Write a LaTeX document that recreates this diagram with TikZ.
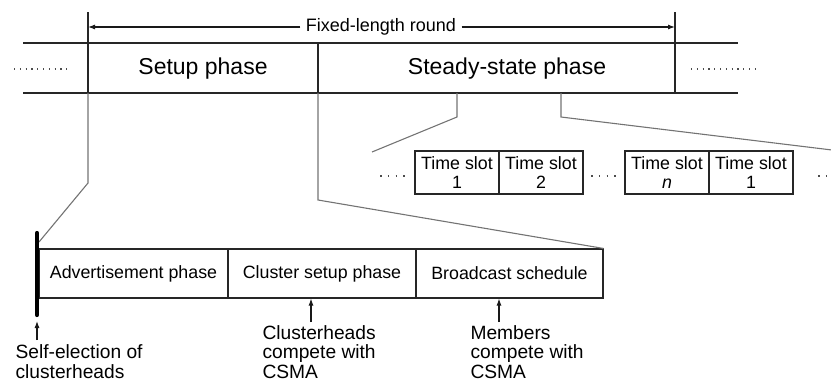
\documentclass[tikz,border=0pt]{standalone}
\usepackage{fontspec}
\setmainfont{Liberation Sans}
\usetikzlibrary{arrows.meta}
\begin{document}
\begin{tikzpicture}[x=1bp,y=-1bp,line width=1.1bp,
  ln/.style={draw=black!85},
  gl/.style={draw=black!55},
  dots/.style={draw=black!70,dash pattern=on 1.2bp off 4.6bp},
  sdots/.style={draw=black!70,dash pattern=on 1.5bp off 6.3bp},
  arr/.style={-{Latex[length=7bp,width=5bp]},draw=black!90},
  bigtxt/.style={font=\fontsize{23bp}{25bp}\selectfont,inner sep=0},
  midtxt/.style={font=\fontsize{18bp}{20bp}\selectfont},
  slot/.style={draw=black!85,minimum width=84bp,minimum height=43bp,inner sep=0,align=center,font=\fontsize{17.8bp}{19bp}\selectfont},
  phase/.style={draw=black!85,minimum height=49bp,inner sep=0,font=\fontsize{17.8bp}{19bp}\selectfont},
  note/.style={anchor=north west,inner sep=0,align=left,font=\fontsize{19.2bp}{19.5bp}\selectfont}]
\useasboundingbox (0,0) rectangle (831,385);

% ---- top band ----
\coordinate (tl) at (23,43);
\coordinate (tr) at (738,43);
\coordinate (bl) at (23,93);
\coordinate (br) at (738,93);
\draw[ln] (tl) -- (tr);
\draw[ln] (bl) -- (br);
\coordinate (rs) at (88,12);
\coordinate (re) at (675,12);
\draw[ln] (rs) -- (88,93);
\draw[ln] (re) -- (675,93);
\draw[ln] (318,43) -- (318,93);
\node[bigtxt] (setup) at (203,69) {Setup phase};
\node[bigtxt] (steady) at (507,69) {Steady-state phase};
\draw[dots] (14,69) -- (72,69);
\draw[dots] (691,69) -- (758,69);

% round arrow
\node[midtxt,inner sep=5bp] (round) at (381,27) {Fixed-length round};
\draw[arr] (round.west) -- (round.west -| rs);
\draw[arr] (round.east) -- (round.east -| re);

% ---- time slots ----
\node[slot] (s1) at (457,172.5) {Time slot\\1};
\node[slot] (s2) at (541,172.5) {Time slot\\2};
\node[slot] (sn) at (667,172.5) {Time slot\\\textit{n}};
\node[slot] (s1b) at (751,172.5) {Time slot\\1};
\draw[sdots] (380,176) -- (406,176);
\draw[sdots] (591,176) -- (617,176);
\draw[sdots] (818,176) -- (831,176);

% steady-state zoom lines
\draw[gl] (457,93) -- (457,117) -- (372,152);
\draw[gl] (561,93) -- (561,117) -- (832,150);

% ---- setup sub-phases ----
\node[phase,minimum width=189bp] (adv) at (133.5,273.5) {Advertisement phase};
\node[phase,minimum width=188bp] (csp) at (322,273.5) {Cluster setup phase};
\node[phase,minimum width=187bp] (bcs) at (509.5,273.5) {Broadcast schedule};

% setup zoom lines
\draw[gl] (88,93) -- (88,183) -- (39,242);
\draw[gl] (318,93) -- (318,200) -- (bcs.north east);

% thick bar
\draw[line width=4.2bp,line cap=round,black] (37,233) -- (37,315);

% ---- notes ----
\node[note] (self) at (15,344.5) {Self-election of\\clusterheads};
\node[note] (chc) at (262,325) {Clusterheads\\compete with\\CSMA};
\node[note] (mem) at (470,325) {Members\\compete with\\CSMA};

\coordinate (a1s) at (37,340);
\coordinate (a1e) at (37,321);
\draw[arr] (a1s) -- (a1e);
\coordinate (a2s) at (311,322);
\draw[arr] (a2s) -- (a2s |- csp.south);
\coordinate (a3s) at (499,322);
\draw[arr] (a3s) -- (a3s |- bcs.south);
\end{tikzpicture}
\end{document}
